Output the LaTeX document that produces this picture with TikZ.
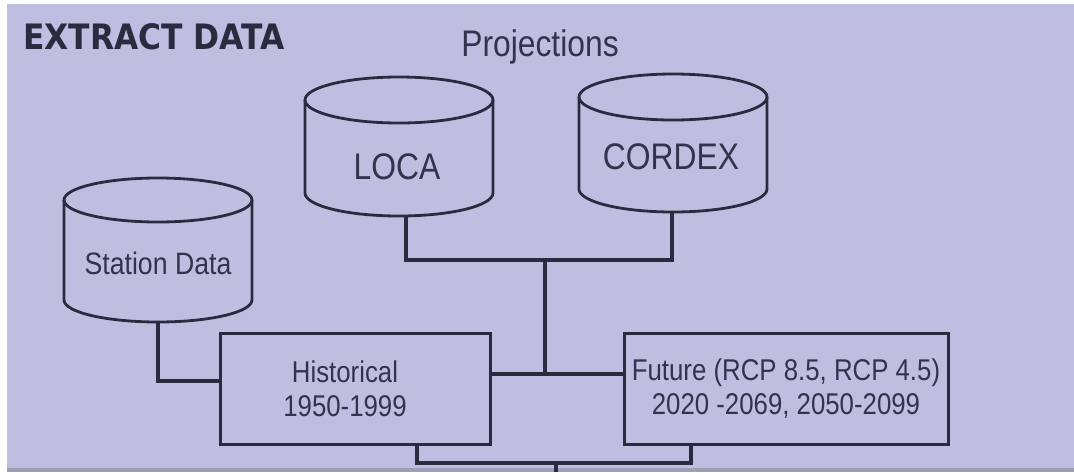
\documentclass[tikz,border=0pt]{standalone}
\usepackage{fontspec}
\setmainfont{Liberation Sans}
\newfontfamily\labelfont[FakeStretch=0.86]{Liberation Sans}
\newfontfamily\titlefont[FakeStretch=0.895]{DejaVu Sans Bold}

\definecolor{panel}{HTML}{BEBEE0}
\definecolor{panelrim}{HTML}{9E9EB4}
\definecolor{ink}{HTML}{2B2B40}
\definecolor{textink}{HTML}{33334D}

\tikzset{
  link/.style={draw=ink, line width=3.2pt},
  dbline/.style={draw=ink, line width=2.8pt},
  periodbox/.style={draw=ink, line width=3pt, rectangle, inner sep=0pt,
    minimum height=111pt, align=center, text=textink,
    font=\labelfont\fontsize{30}{34}\selectfont},
  dblabel/.style={anchor=base, text=textink, inner sep=0pt},
}

% database cylinder: centre x, half width, top y, bottom y, ellipse half height
\newcommand\dbcylinder[5]{%
  \draw[dbline] (#1,#3) ellipse[x radius=#2, y radius=#5];
  \draw[dbline] ({#1-#2},#3) -- ({#1-#2},#4)
     arc[start angle=180, end angle=0, x radius=#2, y radius=#5] -- ({#1+#2},#3);
}

\begin{document}
\begin{tikzpicture}[x=1pt, y=-1pt]
  % panel
  \fill[white] (0,0) rectangle (1074,472);
  \fill[panel] (7,4) rectangle (1074,468);
  \fill[panelrim] (7,468) rectangle (1074,472);
  \useasboundingbox (0,0) rectangle (1074,472);

  % headings
  \node[anchor=base west, inner sep=0pt, text=ink, font=\titlefont\fontsize{35}{40}\selectfont]
    (title) at (23,49) {EXTRACT DATA};
  \node[dblabel, font=\labelfont\fontsize{37}{40}\selectfont]
    (proj) at (540,56) {Projections};

  % data sources
  \dbcylinder{158}{94}{200}{300}{22}
  \node[dblabel, font=\labelfont\fontsize{31}{34}\selectfont] (station) at (158,274) {Station Data};
  \coordinate (stationb) at (158,322);

  \dbcylinder{399}{94}{100}{193}{23}
  \node[dblabel, font=\labelfont\fontsize{37}{40}\selectfont] (loca) at (397,179) {LOCA};
  \coordinate (locab) at (406,215);

  \dbcylinder{673}{94}{97}{189}{23}
  \node[dblabel, font=\labelfont\fontsize{37}{40}\selectfont] (cordex) at (671,169) {CORDEX};
  \coordinate (cordexb) at (672,212);

  % periods
  \node[periodbox, minimum width=270pt] (hist) at (355,388.5)
    {\hspace*{-20pt}Historical\\\hspace*{-20pt}1950-1999};
  \node[periodbox, minimum width=324pt] (fut) at (786,388.5)
    {Future (RCP 8.5, RCP 4.5)\\2020 -2069, 2050-2099};

  % junction levels
  \coordinate (projbus) at (545,260);
  \coordinate (midbus) at (545,374);
  \coordinate (stationlevel) at (0,381);
  \coordinate (outbus) at (556,463);
  \coordinate (histout) at (417,0);
  \coordinate (futout) at (691,0);
  \coordinate (edge) at (556,472);

  % connectors
  \draw[link] (stationb) |- (hist.west |- stationlevel);
  \draw[link] (locab) -- (locab |- projbus) -- (cordexb |- projbus) -- (cordexb);
  \draw[link] (projbus) -- (midbus);
  \draw[link] (hist.east |- midbus) -- (fut.west |- midbus);
  \draw[link] (histout |- hist.south) -- (histout |- outbus)
              -- (futout |- outbus) -- (futout |- fut.south);
  \draw[link] (outbus) -- (edge);
\end{tikzpicture}
\end{document}
